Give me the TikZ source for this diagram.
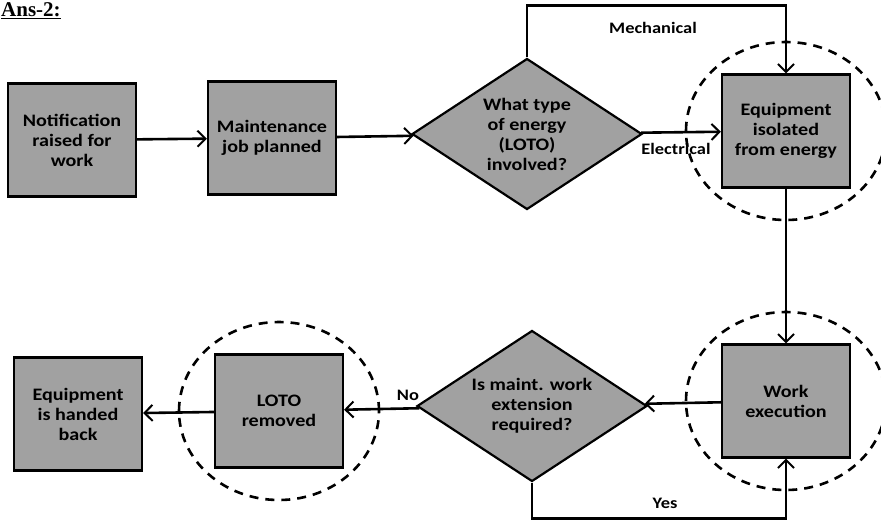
\documentclass[tikz,border=0pt]{standalone}
\usepackage{fontspec}
\setmainfont{Carlito}
\newfontfamily\boxfont[FakeStretch=1.15]{Carlito}
\newfontfamily\titlefont{Liberation Serif}
\usetikzlibrary{shapes.geometric,arrows.meta}

\begin{document}
\begin{tikzpicture}[
        x=1pt, y=-1pt,
        >={Straight Barb[length=8pt,width=16pt,line width=2pt]},
        stepbox/.style={rectangle, draw, line width=2.2pt, fill=black!37, minimum width=128pt, minimum height=113pt, align=center, font=\boxfont\bfseries\fontsize{17.5}{20}\selectfont},
        decision/.style={diamond, draw, line width=2.2pt, fill=black!37, minimum width=230pt, minimum height=151pt, aspect=1.5, inner sep=0pt, align=center, font=\boxfont\bfseries\fontsize{17.5}{20}\selectfont},
        ring/.style={ellipse, draw, line width=2.6pt, dash pattern=on 9pt off 7pt, minimum width=200pt, minimum height=178pt, inner sep=0pt},
        flow/.style={->, line width=2.6pt},
        tag/.style={font=\boxfont\bfseries\fontsize{16}{18}\selectfont}
    ]
        \useasboundingbox (0,0) rectangle (881,523);
        \node[anchor=west, inner sep=1pt, font=\titlefont\bfseries\fontsize{21}{22}\selectfont] (title) at (0,11) {\underline{Ans-2:}};

        % === Top row ===
        \node[stepbox] (notif) at (72,140) {Notification\\raised for\\work};
        \node[stepbox] (plan) at (272,138) {Maintenance\\job planned};
        \node[decision] (energy) at (527,134) {What type\\of energy\\(LOTO)\\involved?};
        \node[stepbox] (iso) at (786,131) {Equipment\\isolated\\from energy};
        \node[ring] (isoring) at (iso) {};

        \draw[flow] (notif) -- (plan);
        \draw[flow] (plan) -- (energy);
        \draw[flow] (energy) -- (iso);
        \node[tag] (elec) at (676,149) {Electrical};
        \draw[flow] (energy.north) -- ++(0,-52) -| (iso.north);
        \node[tag] (mech) at (653,28) {Mechanical};

        % === Bottom row ===
        \node[stepbox] (exec) at (786,401) {Work\\execution};
        \node[ring] (execring) at (exec) {};
        \node[decision] (ext) at (532,406) {Is maint. work\\extension\\required?};
        \node[stepbox] (loto) at (279,411) {LOTO\\removed};
        \node[ring] (lotoring) at (loto) {};
        \node[stepbox] (back) at (78,414) {Equipment\\is handed\\back};

        \draw[flow] (iso) -- (exec);
        \draw[flow] (exec) -- (ext);
        \draw[flow] (ext) -- (loto);
        \node[tag] (no) at (408,395) {No};
        \draw[flow] (loto) -- (back);
        \draw[flow] (ext.south) -- ++(0,36) -| (exec.south);
        \node[tag] (yes) at (665,503) {Yes};
    \end{tikzpicture}
\end{document}
